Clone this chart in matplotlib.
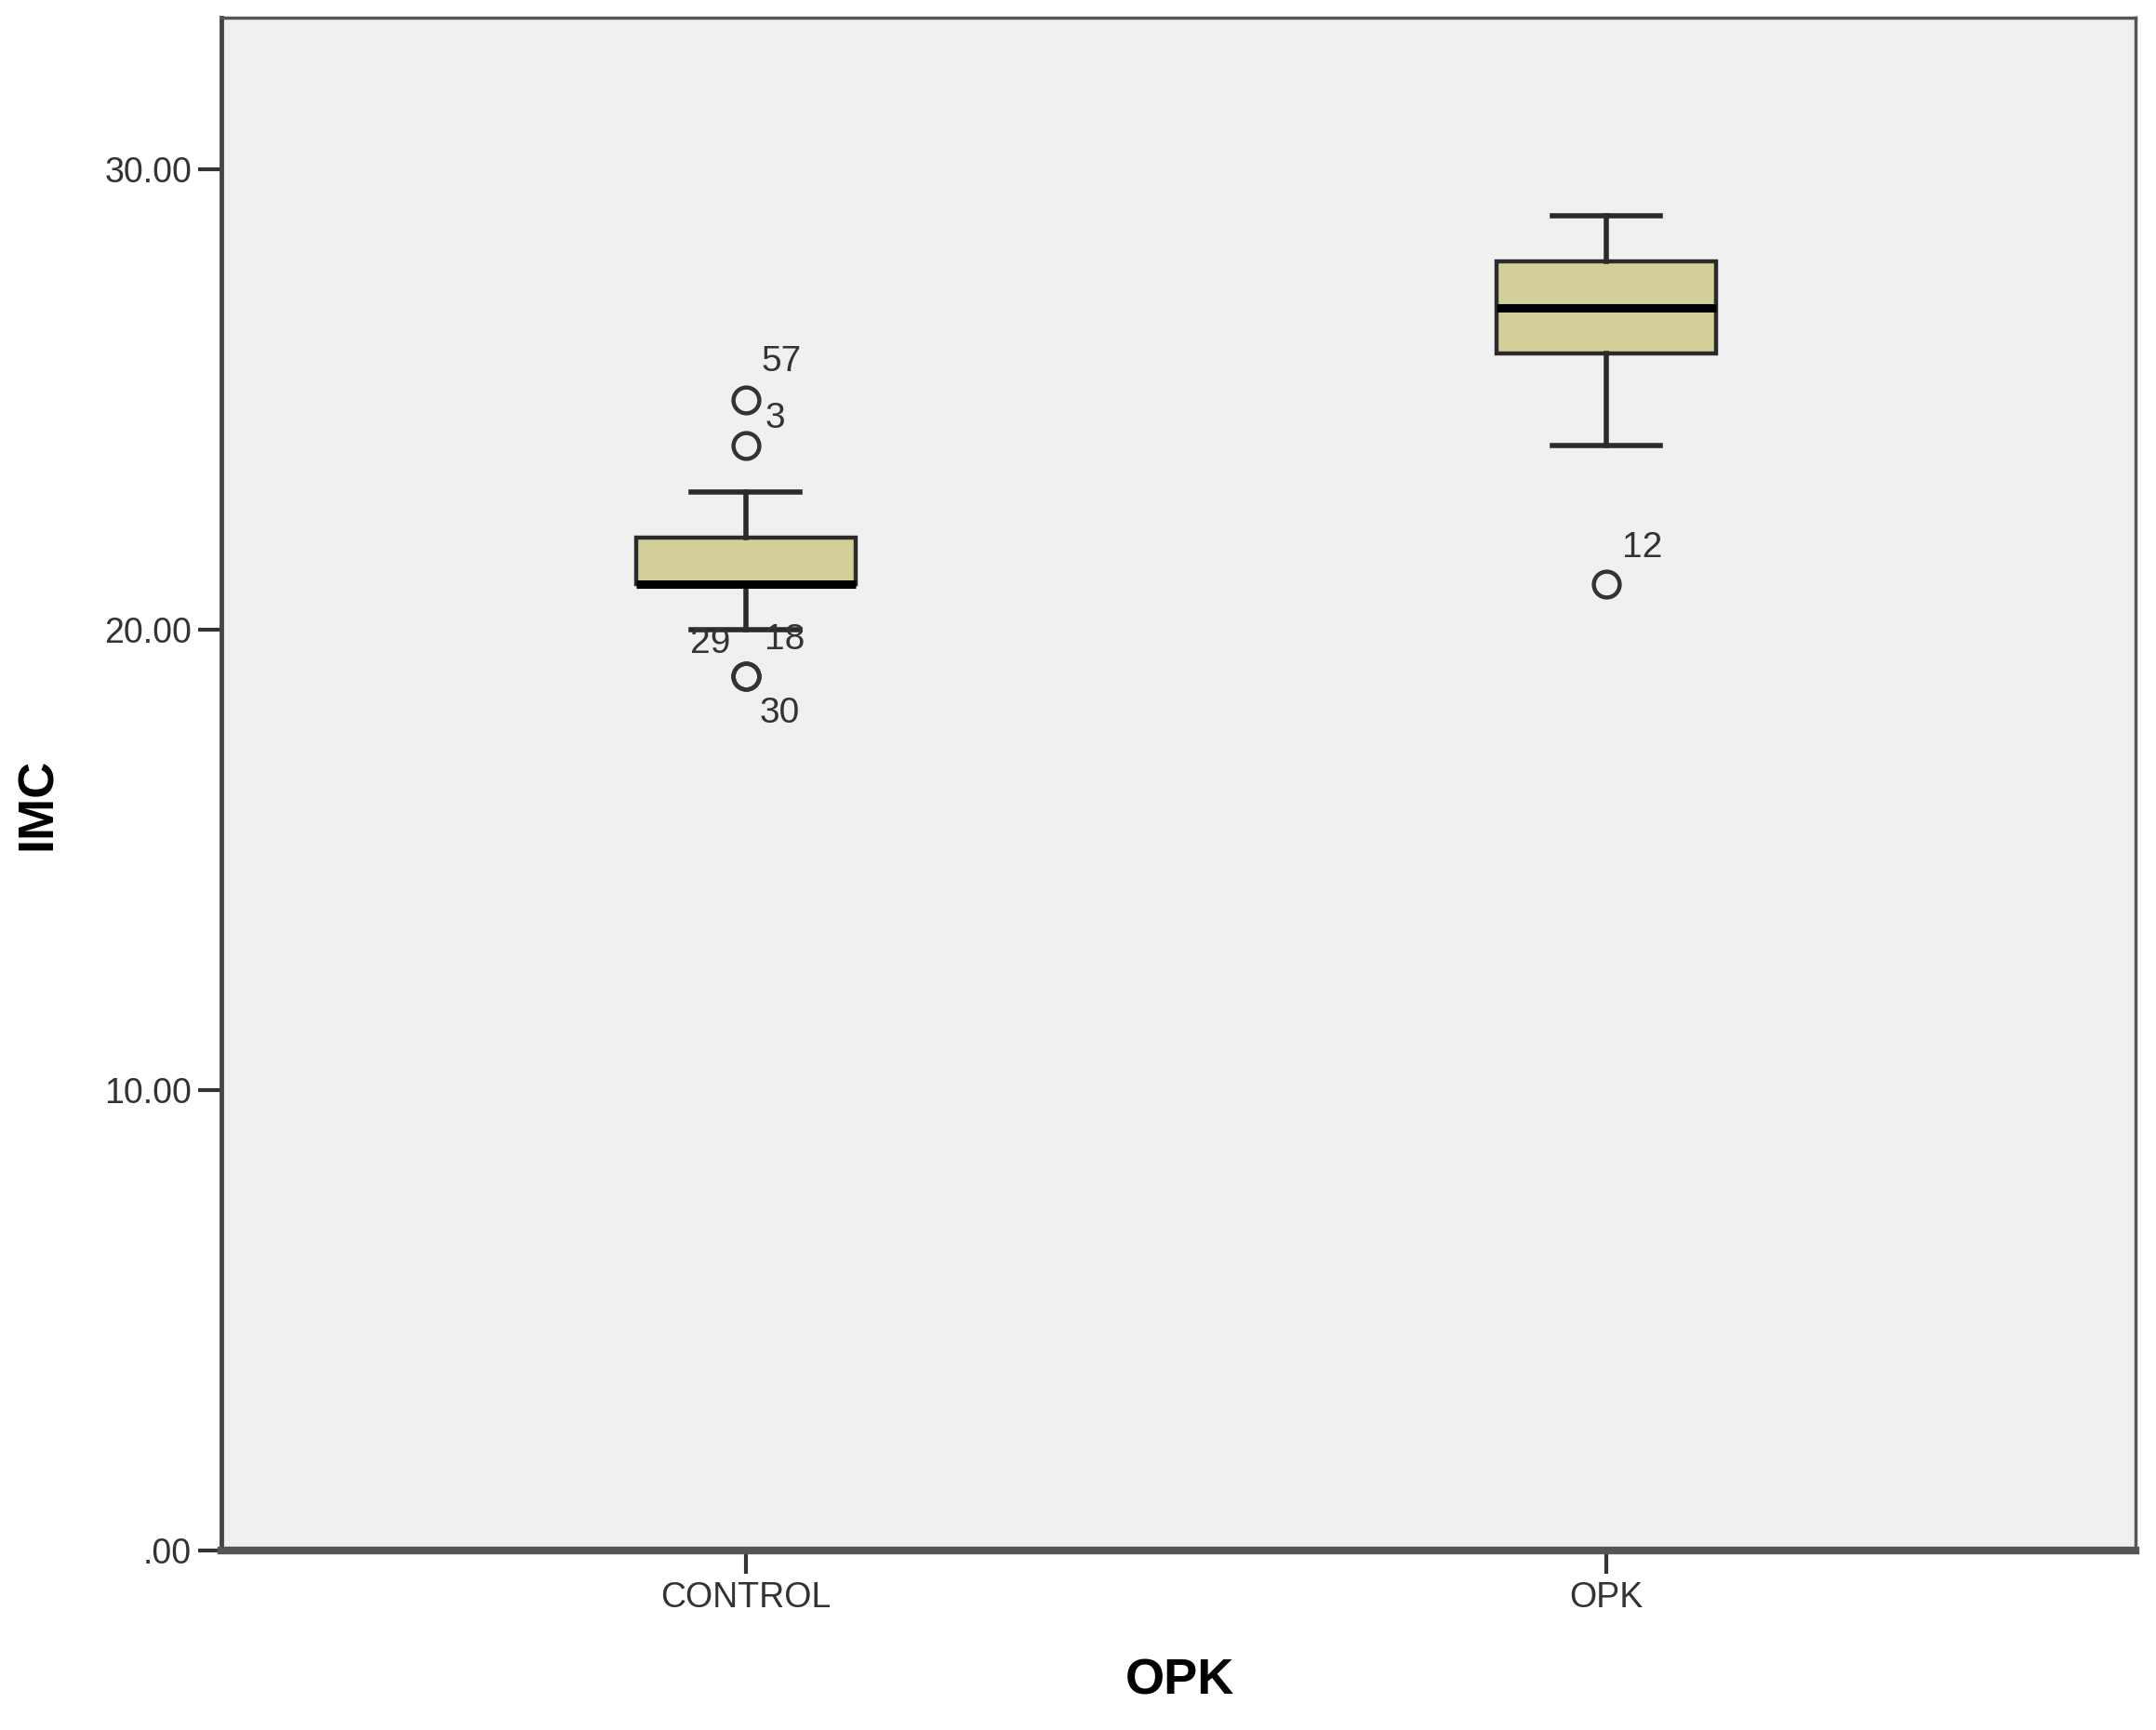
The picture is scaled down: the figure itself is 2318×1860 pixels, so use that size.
import matplotlib
matplotlib.use("Agg")
import matplotlib.pyplot as plt
from matplotlib.ticker import FuncFormatter

plt.rcParams['font.family'] = ['Liberation Sans', 'DejaVu Sans']

# box statistics (IMC by group)
groups = ['CONTROL', 'OPK']
q1 = [21, 26]
median = [21, 27]
q3 = [22, 28]
whis_lo = [20, 24]
whis_hi = [23, 29]

# outliers and their case numbers
control_out = [25, 24, 19, 19, 19]
control_ids = ['57', '3', '29', '18', '30']
opk_out = [21]
opk_ids = ['12']

# label offsets (points) for each outlier label
control_offs = [(28, 29), (23, 21), (-27, 25), (30, 28), (26, -29)]
opk_offs = [(28, 28)]

yticks = [0, 10, 20, 30]

box_face = '#d3cf98'
edge = '#2b2b2b'

fig = plt.figure(figsize=(23.18, 18.6), dpi=100)
ax = fig.add_axes([0.1027, 0.1038, 0.8878, 0.886])
ax.set_facecolor('#f0f0f0')

stats = []
fl = [control_out, opk_out]
for i, g in enumerate(groups):
    stats.append(dict(label=g, med=median[i], q1=q1[i], q3=q3[i],
                      whislo=whis_lo[i], whishi=whis_hi[i], fliers=fl[i]))

ax.bxp(stats, positions=[1, 2], widths=0.255, capwidths=0.126,
       patch_artist=True, showfliers=True,
       boxprops=dict(facecolor=box_face, edgecolor=edge, linewidth=3.2),
       medianprops=dict(color='black', linewidth=6.5, solid_capstyle='butt'),
       whiskerprops=dict(color=edge, linewidth=4),
       capprops=dict(color=edge, linewidth=4),
       flierprops=dict(marker='o', markersize=20, markerfacecolor='none',
                       markeredgecolor='#333333', markeredgewidth=3.2))

outs = [control_out, opk_out]
ids = [control_ids, opk_ids]
offs = [control_offs, opk_offs]
for pos, vals, labs, oo in zip([1, 2], outs, ids, offs):
    for v, lab, o in zip(vals, labs, oo):
        ax.annotate(lab, (pos, v), xytext=o, textcoords='offset points',
                    ha='center', va='center', fontsize=28, color='#333333')

ax.set_xlim(0.391, 2.615)
ax.set_ylim(0, 33.3)
ax.set_yticks(yticks)
ax.yaxis.set_major_formatter(FuncFormatter(lambda v, p: ('%.2f' % v).lstrip('0') if v == 0 else '%.2f' % v))
ax.set_xticks([1, 2])
ax.set_xticklabels(groups)

ax.tick_params(axis='both', direction='out', length=18, width=3, colors='#333333',
               labelsize=27, labelcolor='#333333')
ax.tick_params(axis='y', pad=5)
ax.tick_params(axis='x', pad=6)

for s in ['top', 'right']:
    ax.spines[s].set_color('#555555')
    ax.spines[s].set_linewidth(2.5)
ax.spines['left'].set_color('#444444')
ax.spines['left'].set_linewidth(3.5)
ax.spines['bottom'].set_color('#555555')
ax.spines['bottom'].set_linewidth(6)

ax.set_xlabel('OPK', fontsize=39, fontweight='bold')
ax.set_ylabel('IMC', fontsize=39, fontweight='bold')
ax.xaxis.set_label_coords(0.5005, -0.085)
ax.xaxis.label.set_va('center')
ax.yaxis.set_label_coords(-0.0957, 0.487)
ax.yaxis.label.set_va('center')

fig.savefig('out.png', dpi=100, facecolor='white')
